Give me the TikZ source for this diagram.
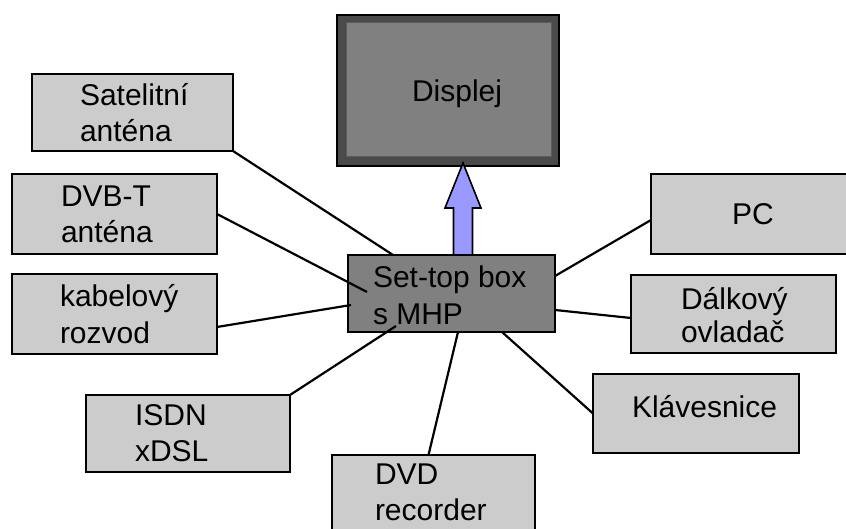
\documentclass[tikz,border=0pt]{standalone}
\usepackage{fontspec}
\setmainfont{Liberation Sans}
\usetikzlibrary{calc}
\definecolor{boxgray}{HTML}{CCCCCC}
\definecolor{midgray}{HTML}{808080}
\definecolor{darkgray}{HTML}{4A4A4A}
\definecolor{innerline}{HTML}{5C5C5C}
\definecolor{arrowblue}{HTML}{9999FF}
\tikzset{
  devbox/.style={draw=black, line width=2pt, fill=boxgray, rectangle, inner sep=0pt, outer sep=0pt},
  stbbox/.style={devbox, fill=midgray},
  dispbox/.style={draw=black, line width=1.5pt, fill=darkgray, rectangle, inner sep=0pt, outer sep=0pt},
  txt/.style={inner sep=0pt, outer sep=0pt, align=left, anchor=base west, font=\fontsize{30}{36}\selectfont},
  link/.style={draw=black, line width=2.2pt},
  bigarrow/.style={draw=black, line width=1.6pt, fill=arrowblue, line join=miter},
}
\begin{document}
\begin{tikzpicture}[x=1pt, y=-1pt]
\useasboundingbox (0,0) rectangle (846,529);
% display
\node[dispbox, minimum width=222pt, minimum height=151pt] (disp) at (448,90.5) {};
\draw[fill=midgray, draw=innerline, line width=1pt] ($(disp.south west)+(9,-9)$) rectangle ($(disp.north east)+(-8,8)$);
\node[txt] (dispT) at (412,102) {Displej};
% device boxes
\node[devbox, minimum width=201pt, minimum height=77pt] (sat) at (132.5,112.5) {};
\node[devbox, minimum width=205pt, minimum height=80pt] (dvbt) at (114.5,214) {};
\node[devbox, minimum width=205pt, minimum height=80pt] (kab) at (114.5,314) {};
\node[devbox, minimum width=204pt, minimum height=77pt] (isdn) at (188,433.5) {};
\node[devbox, minimum width=203pt, minimum height=90pt] (dvd) at (433.5,500) {};
\node[devbox, minimum width=209pt, minimum height=80pt] (pc) at (755.5,214) {};
\node[devbox, minimum width=205pt, minimum height=78pt] (dalk) at (733.5,314) {};
\node[devbox, minimum width=206pt, minimum height=79pt] (klav) at (696,413.5) {};
\node[stbbox, minimum width=207pt, minimum height=77pt] (stb) at (451.5,293.5) {};
% texts (multi-line: anchor at last baseline)
\node[txt] (satT) at (80,142) {Satelitní\\anténa};
\node[txt] (dvbtT) at (61,243) {DVB-T\\anténa};
\node[txt] (kabT) at (60,343) {kabelový\\rozvod};
\node[txt] (isdnT) at (135,461) {ISDN\\xDSL};
\node[txt] (dvdT) at (375,520) {DVD\\recorder};
\node[txt] (pcT) at (732,225) {PC};
\node[txt, font=\fontsize{30}{33}\selectfont] (dalkT) at (681,342) {Dálkový\\ovladač};
\node[txt] (klavT) at (632,417) {Klávesnice};
\node[txt, font=\fontsize{30}{37}\selectfont] (stbT) at (373,325) {Set-top box\\s MHP};
% connectors
\draw[link] (sat.south east) -- ($(stb.north west)+(45,0)$);
\draw[link] (dvbt.east) -- ($(stb.north west)+(19,37)$);
\draw[link] ($(kab.east)+(0,13)$) -- ($(stb.west)+(3,11.5)$);
\draw[link] (isdn.north east) -- ($(stb.south west)+(48,-6)$);
\draw[link] ($(dvd.north)+(-5,0)$) -- ($(stb.south west)+(110,0)$);
\draw[link] (klav.west) -- ($(stb.south west)+(154,0)$);
\draw[link] ($(dalk.west)+(0,4)$) -- ($(stb.east)+(0,16.5)$);
\draw[link] ($(pc.west)+(0,6)$) -- ($(stb.east)+(0,-17.5)$);
% big arrow from set-top box to display
\coordinate (a0) at ($(stb.north west)+(115,0)$);
\coordinate (a1) at ($(a0 |- disp.south)+(0,-3)$);
\draw[bigarrow] ($(a0)+(-9.5,0)$) -- ($(a1)+(-9.5,45)$) -- ($(a1)+(-18,45)$) -- (a1)
  -- ($(a1)+(18,45)$) -- ($(a1)+(9.5,45)$) -- ($(a0)+(9.5,0)$) -- cycle;
\end{tikzpicture}
\end{document}
